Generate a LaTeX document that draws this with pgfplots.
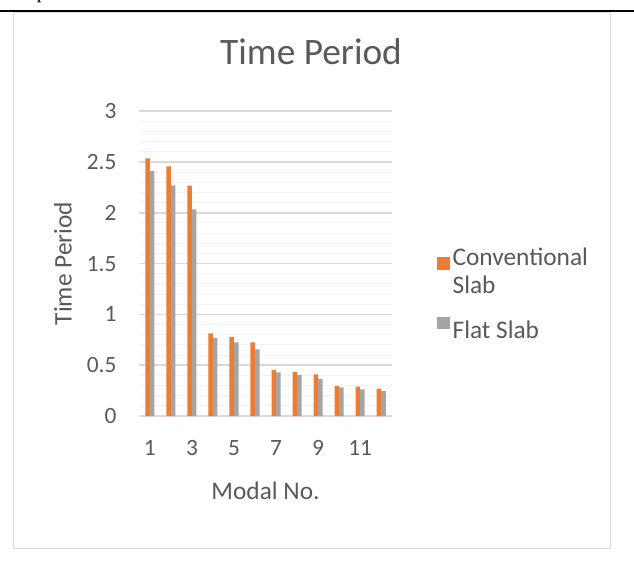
\documentclass[border=0pt]{standalone}
\usepackage{pgfplots}
\pgfplotsset{compat=1.18}
\usepackage{fontspec}
\setmainfont{Carlito}
\newfontfamily\docserif{Liberation Serif}
\definecolor{txt}{HTML}{595959}
\definecolor{orangebar}{HTML}{ED7D31}
\definecolor{graybar}{HTML}{A5A5A5}
\definecolor{gridmaj}{HTML}{D9D9D9}
\definecolor{gridmin}{HTML}{F2F2F2}

\begin{document}
\begin{tikzpicture}
\useasboundingbox (0,0) rectangle (475.5pt,-430.5pt);
% running text of the page, cut by the page edge
\begin{scope}
  \clip (0,0) rectangle (475.5pt,-430.5pt);
  \node[anchor=base west, inner sep=0pt, font=\docserif\fontsize{15}{18}\selectfont] at (12pt,1.2pt) {re period};
\end{scope}
\draw[line width=1.5pt] (0pt,-8.6pt) -- (475.5pt,-8.6pt);
% chart area border
\draw[gridmaj, line width=0.75pt] (9.75pt,-9.75pt) rectangle (457.5pt,-411pt);
% chart title
\node[anchor=base, inner sep=0pt, text=txt, font=\fontsize{28}{32}\selectfont] at (233.25pt,-48.75pt) {Time Period};

\begin{axis}[
  at={(104.5pt,-312pt)}, anchor=south west,
  scale only axis, width=189.3pt, height=228.6pt,
  ybar=0pt, bar width=3.4pt,
  xmin=0.5, xmax=12.5, ymin=0, ymax=3,
  enlargelimits=false,
  xtick={1,3,5,7,9,11},
  ytick={0,0.5,1,1.5,2,2.5,3},
  minor y tick num=4,
  ymajorgrids, yminorgrids,
  major grid style={gridmaj, line width=1.1pt},
  minor grid style={gridmin, line width=0.75pt},
  axis lines=left,
  axis line style={draw=none},
  major tick length=0pt, minor tick length=0pt,
  tick style={draw=none},
  /pgf/number format/assume math mode=true,
  ticklabel style={text=txt, inner sep=0pt, font=\fontsize{17.5}{20}\selectfont},
  yticklabel style={anchor=east, xshift=-17pt},
  xticklabel style={anchor=north, yshift=-18pt},
  xlabel={Modal No.},
  ylabel={Time Period},
  label style={text=txt, inner sep=0pt, font=\fontsize{19}{22}\selectfont},
  xlabel style={at={(axis description cs:0.5,0)}, anchor=base, yshift=-62.3pt},
  ylabel style={at={(axis description cs:-0.268,0.5)}, anchor=base},
  legend style={at={(axis description cs:1.180,0.561)}, anchor=north west,
    draw=none, fill=none, inner sep=0pt, text=txt,
    font=\fontsize{19}{21}\selectfont,
    cells={anchor=west, align=left}, row sep=13.75pt},
  legend image code/.code={\fill[#1] (-2.25pt,1.3pt) rectangle (7.15pt,10.7pt);},
]
\addplot[fill=orangebar, draw=none] coordinates {
  (1,2.536) (2,2.457) (3,2.267) (4,0.814) (5,0.780) (6,0.725)
  (7,0.453) (8,0.433) (9,0.410) (10,0.295) (11,0.289) (12,0.269)};
\addplot[fill=graybar, draw=none] coordinates {
  (1,2.410) (2,2.270) (3,2.034) (4,0.768) (5,0.725) (6,0.656)
  (7,0.430) (8,0.404) (9,0.364) (10,0.282) (11,0.263) (12,0.246)};
\legend{Conventional\\Slab, Flat Slab}
\end{axis}
\end{tikzpicture}
\end{document}
